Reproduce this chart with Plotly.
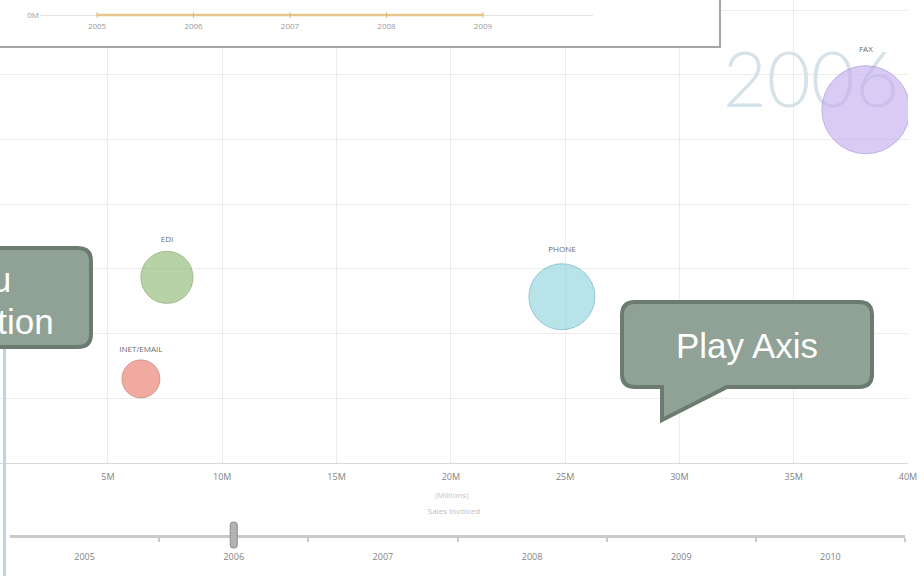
import plotly.graph_objects as go

W, H = 924, 576

# Sales channels for the selected play-axis year
channels = ["INET/EMAIL", "EDI", "PHONE", "FAX"]
sales_invoiced_m = [6.44, 7.58, 24.86, 38.16]      # Sales Invoiced (Millions)
avg_days_to_pay = [1.30, 2.87, 2.57, 5.46]         # vertical measure
invoice_count_k = [3.6, 6.8, 10.9, 19.4]           # bubble size measure

fill_colors = ["rgba(232,122,106,0.9)", "rgba(142,186,114,0.9)",
               "rgba(142,212,222,0.9)", "rgba(196,174,238,0.9)"]
edge_colors = ["#c4685a", "#7a9f63", "#69afbf", "#a490d4"]

x_ticks_m = [5, 10, 15, 20, 25, 30, 35, 40]

# Play axis
play_years = [2005, 2006, 2007, 2008, 2009, 2010]
current_year = 2006

# Small trend chart in the panel above the bubbles
inset_years = [2005, 2006, 2007, 2008, 2009]
inset_values_m = [0, 0, 0, 0, 0]


def px(x):
    return x / W


def py(y):
    return 1 - y / H


def pt(x, y):
    return f"{px(x):.5f},{py(y):.5f}"


def callout_path(x0, y0, x1, y1, r, tail=None):
    d = [f"M{pt(x0 + r, y0)}", f"L{pt(x1 - r, y0)}", f"Q{pt(x1, y0)} {pt(x1, y0 + r)}",
         f"L{pt(x1, y1 - r)}", f"Q{pt(x1, y1)} {pt(x1 - r, y1)}"]
    if tail:
        left_x, right_x, tip_x, tip_y = tail
        d += [f"L{pt(right_x, y1)}", f"L{pt(tip_x, tip_y)}", f"L{pt(left_x, y1)}"]
    d += [f"L{pt(x0 + r, y1)}", f"Q{pt(x0, y1)} {pt(x0, y1 - r)}",
          f"L{pt(x0, y0 + r)}", f"Q{pt(x0, y0)} {pt(x0 + r, y0)}", "Z"]
    return " ".join(d)


x_range = [0.2756, 40.002]
y_range = [0, 7.156]

max_px = 88
sizeref = 2 * max(invoice_count_k) / (max_px ** 2)

fig = go.Figure()

# Year watermark behind the bubbles
fig.add_trace(go.Scatter(
    x=[35.75], y=[5.80], mode="text", text=[str(current_year)],
    textfont=dict(family="Lato", size=76, color="#d5e2ea", weight=300),
    textposition="middle center", hoverinfo="skip", showlegend=False,
    xaxis="x", yaxis="y"))

fig.add_trace(go.Scatter(
    x=sales_invoiced_m, y=avg_days_to_pay, mode="markers+text",
    text=channels, textposition="top center",
    textfont=dict(family="Open Sans", size=8, color="#6b6b6b"),
    marker=dict(size=invoice_count_k, sizemode="area", sizeref=sizeref,
                color=fill_colors, line=dict(color=edge_colors, width=1)),
    showlegend=False, xaxis="x", yaxis="y"))

# Panel frame (its own subplot so the white background covers the grid)
fig.add_trace(go.Scatter(x=[None], y=[None], showlegend=False,
                         hoverinfo="skip", xaxis="x2", yaxis="y2"))

fig.add_trace(go.Scatter(
    x=inset_years, y=inset_values_m, mode="lines+markers",
    line=dict(color="#e5c78b", width=2.5),
    marker=dict(size=4, color="#d9b878", symbol="line-ns-open",
                line=dict(width=1, color="#c9a86a")),
    showlegend=False, hoverinfo="skip", xaxis="x3", yaxis="y3"))

fig.add_trace(go.Scatter(x=[None], y=[None], showlegend=False,
                         hoverinfo="skip", xaxis="x4", yaxis="y4"))

tick_font = dict(family="Open Sans", size=9, color="#828282")

fig.update_layout(
    width=W, height=H, autosize=False,
    margin=dict(l=0, r=0, t=0, b=0, pad=0, autoexpand=False),
    paper_bgcolor="white", plot_bgcolor="white",
    showlegend=False,
    xaxis=dict(domain=[0, px(908)], range=x_range, anchor="y", automargin=False,
               tickvals=x_ticks_m, ticktext=[f"{v}M" for v in x_ticks_m],
               showgrid=True, gridcolor="#ececec", gridwidth=1,
               zeroline=False, showline=True, linecolor="#d9d9d9", linewidth=1,
               ticks="", tickfont=tick_font, ticklabelstandoff=5,
               title=dict(text="Sales Invoiced",
                          font=dict(family="Open Sans", size=8, color="#bdbdbd"),
                          standoff=26)),
    yaxis=dict(domain=[py(463), 1], range=y_range, anchor="x", dtick=1,
               automargin=False,
               showticklabels=False, showgrid=True, gridcolor="#ececec",
               zeroline=False, ticks=""),
    xaxis2=dict(domain=[0, px(719)], range=[0, 1], anchor="y2", automargin=False,
                showline=True, linecolor="#a6a6a6", linewidth=2,
                showgrid=False, zeroline=False, showticklabels=False, ticks=""),
    yaxis2=dict(domain=[py(46), 1], range=[0, 1], anchor="x2", side="right",
                automargin=False,
                showline=True, linecolor="#a6a6a6", linewidth=2,
                showgrid=False, zeroline=False, showticklabels=False, ticks=""),
    xaxis3=dict(domain=[px(40), px(593)], range=[2004.409, 2010.14], anchor="y3",
                automargin=False,
                tickvals=inset_years, showgrid=False, zeroline=False,
                showline=False, ticks="",
                tickfont=dict(family="Open Sans", size=8, color="#9a9a9a")),
    yaxis3=dict(domain=[py(20), 1], range=[-1, 3], anchor="x3", automargin=False,
                tickvals=[0], ticktext=["0M"], showgrid=True, gridcolor="#e3e3e3",
                zeroline=False, ticks="",
                tickfont=dict(family="Open Sans", size=8, color="#9a9a9a")),
    xaxis4=dict(domain=[px(10), px(905)], range=[2004.5, 2010.5], anchor="y4",
                automargin=False,
                tickvals=play_years, showgrid=False, zeroline=False,
                showline=True, linecolor="#cacaca", linewidth=3, ticks="",
                minor=dict(tickvals=[y + 0.5 for y in play_years], ticks="outside",
                           ticklen=4, tickwidth=2, tickcolor="#cacaca"),
                tickfont=tick_font, ticklabelstandoff=11),
    yaxis4=dict(domain=[py(535), py(533)], range=[0, 1], anchor="x4", visible=False,
                automargin=False),
)

shapes = [
    # window edge on the left
    dict(type="line", xref="paper", yref="paper", x0=px(4.5), x1=px(4.5),
         y0=py(347), y1=py(576), line=dict(color="#c3d3e6", width=3), layer="above"),
    # play-axis handle at the current year
    dict(type="path", xref="x4", xsizemode="pixel", xanchor=current_year,
         yref="paper", ysizemode="pixel", yanchor=py(535),
         path="M-3.5,-10 L-3.5,10 Q-3.5,13 -0.5,13 L0.5,13 Q3.5,13 3.5,10 "
              "L3.5,-10 Q3.5,-13 0.5,-13 L-0.5,-13 Q-3.5,-13 -3.5,-10 Z",
         fillcolor="#b3b3b3", line=dict(color="#8d8d8d", width=1), layer="above"),
    # callouts
    dict(type="path", xref="paper", yref="paper",
         path=callout_path(-30, 248, 91, 347, 13),
         fillcolor="#8fa295", line=dict(color="#6c7b70", width=4), layer="above"),
    dict(type="path", xref="paper", yref="paper",
         path=callout_path(622, 302, 872, 387, 13, tail=(662, 727, 662, 420)),
         fillcolor="#8fa295", line=dict(color="#6c7b70", width=4), layer="above"),
]
fig.update_layout(shapes=shapes)

callout_font = dict(family="Liberation Sans", size=35, color="white")
fig.update_layout(annotations=[
    dict(xref="paper", yref="paper", x=px(452), y=py(494), xanchor="center",
         yanchor="middle", text="(Millions)", showarrow=False,
         font=dict(family="Open Sans", size=8, color="#c4c4c4")),
    dict(xref="paper", yref="paper", x=px(13), y=py(279), xanchor="right",
         yanchor="middle", text="Category Menu", showarrow=False, font=callout_font),
    dict(xref="paper", yref="paper", x=px(56), y=py(321), xanchor="right",
         yanchor="middle", text="Bubble Selection", showarrow=False, font=callout_font),
    dict(xref="paper", yref="paper", x=px(747), y=py(345), xanchor="center",
         yanchor="middle", text="Play Axis", showarrow=False, font=callout_font),
])

fig.write_html("out.html", config={"responsive": False})
